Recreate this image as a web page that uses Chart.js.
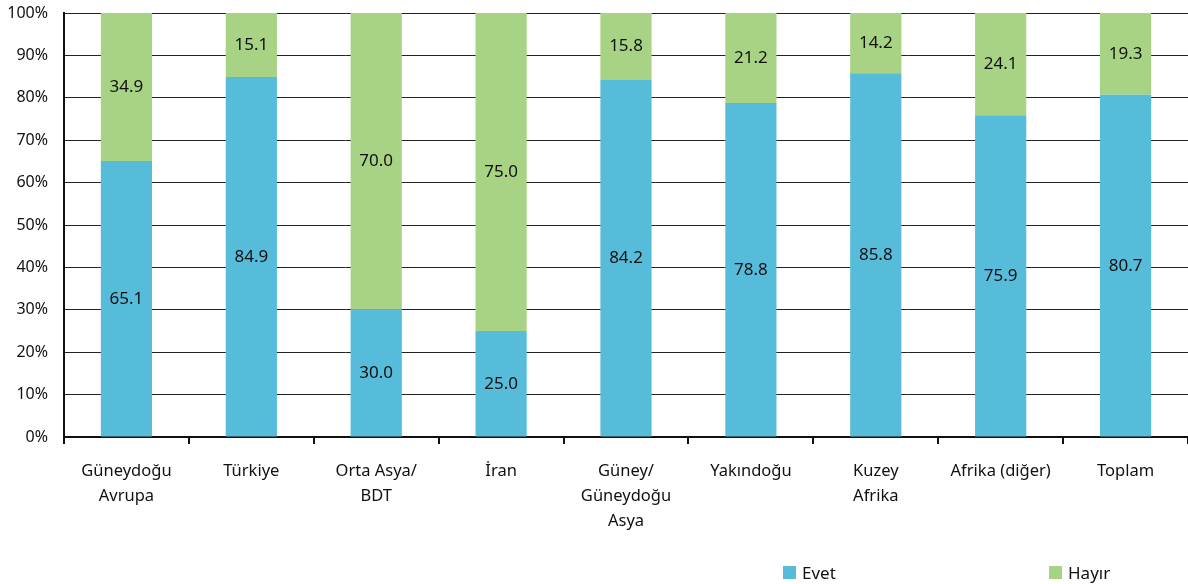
<!DOCTYPE html>
<html>
<head>
<meta charset="utf-8">
<script src="https://cdn.jsdelivr.net/npm/chart.js@4"></script>
<style>
    html, body { margin: 0; padding: 0; background: #fff; }
    #wrap { position: relative; width: 1188px; height: 584px; }
    #legend { position: absolute; top: 561px; left: 0; width: 1188px; height: 24px; font-family: "Noto Sans", sans-serif; font-size: 17px; color: #111; }
    .item { position: absolute; display: flex; align-items: center; }
    .box { width: 13px; height: 13px; margin-right: 6px; }
</style>
</head>
<body>
<div id="wrap">
    <canvas id="chart" width="1188" height="584"></canvas>
    <div id="legend"></div>
</div>
<script>
const categories = [
    ['Güneydoğu', 'Avrupa'],
    'Türkiye',
    ['Orta Asya/', 'BDT'],
    'İran',
    ['Güney/', 'Güneydoğu', 'Asya'],
    'Yakındoğu',
    ['Kuzey', 'Afrika'],
    'Afrika (diğer)',
    'Toplam'
];
const evet = [65.1, 84.9, 30.0, 25.0, 84.2, 78.8, 85.8, 75.9, 80.7];
const hayir = [34.9, 15.1, 70.0, 75.0, 15.8, 21.2, 14.2, 24.1, 19.3];
const seriesNames = ['Evet', 'Hayır'];
const colors = ['#56bcda', '#a8d384'];
const legendLeft = [783, 1049];

const FONT = '"Noto Sans", sans-serif';

// value labels in the middle of each segment
const segmentLabels = {
    id: 'segmentLabels',
    afterDatasetsDraw(chart) {
        const ctx = chart.ctx;
        ctx.save();
        ctx.font = '17px ' + FONT;
        ctx.fillStyle = '#111';
        ctx.textAlign = 'center';
        ctx.textBaseline = 'middle';
        chart.data.datasets.forEach((ds, i) => {
            chart.getDatasetMeta(i).data.forEach((bar, j) => {
                const y = (bar.y + bar.base) / 2;
                ctx.fillText(ds.data[j].toFixed(1), bar.x, y);
            });
        });
        ctx.restore();
    }
};

new Chart(document.getElementById('chart'), {
    type: 'bar',
    data: {
        labels: categories,
        datasets: [
            { label: seriesNames[0], data: evet, backgroundColor: colors[0] },
            { label: seriesNames[1], data: hayir, backgroundColor: colors[1] }
        ]
    },
    options: {
        responsive: false,
        animation: false,
        layout: { padding: 0 },
        datasets: { bar: { categoryPercentage: 1, barPercentage: 0.41 } },
        plugins: {
            legend: { display: false },
            tooltip: { enabled: false }
        },
        scales: {
            x: {
                stacked: true,
                afterFit: (scale) => { scale.height = 147; },
                grid: { offset: true, drawOnChartArea: false, drawTicks: true, tickLength: 7, color: '#111', lineWidth: 2 },
                border: { color: '#111', width: 2 },
                ticks: { color: '#111', font: { family: FONT, size: 16.5, lineHeight: 1.5 }, padding: 15, maxRotation: 0, autoSkip: false }
            },
            y: {
                stacked: true,
                min: 0,
                max: 100,
                afterFit: (scale) => {
                    scale.width = 64;
                    scale.paddingTop = 13;
                },
                grid: { color: '#222', lineWidth: 1, drawTicks: false },
                border: { color: '#111', width: 2 },
                ticks: {
                    stepSize: 10,
                    color: '#111',
                    padding: 16,
                    font: { family: FONT, size: 16 },
                    callback: (value) => value + '%'
                }
            }
        }
    },
    plugins: [segmentLabels]
});

// legend
const legend = document.getElementById('legend');
seriesNames.forEach((name, i) => {
    const item = document.createElement('div');
    item.className = 'item';
    item.style.left = legendLeft[i] + 'px';
    item.innerHTML = `<div class="box" style="background:${colors[i]}"></div><span>${name}</span>`;
    legend.appendChild(item);
});
</script>
</body>
</html>
